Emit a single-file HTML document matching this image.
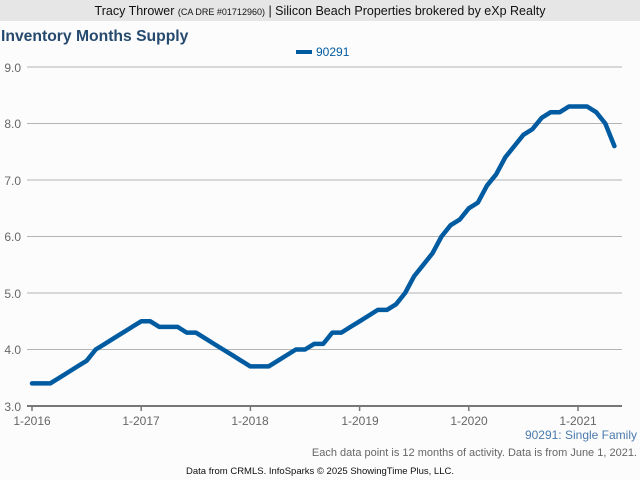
<!DOCTYPE html>
<html><head><meta charset="utf-8"><style>
body{margin:0;width:640px;height:480px;background:#fff;overflow:hidden;font-family:"Liberation Sans",sans-serif}
</style></head><body>
<svg id="s" width="640" height="480" xmlns="http://www.w3.org/2000/svg" font-family="Liberation Sans, sans-serif">
<rect x="0" y="0" width="640" height="480" fill="#fcfcfc"/>
<rect x="0" y="0" width="640" height="21" fill="#e6e6e6"/>
<text x="320" y="15" text-anchor="middle" font-size="12.5" fill="#111">Tracy Thrower <tspan font-size="9">(CA DRE #01712960)</tspan> | Silicon Beach Properties brokered by eXp Realty</text>
<text x="1" y="41" font-size="15.7" font-weight="bold" fill="#264a6e">Inventory Months Supply</text>
<rect x="296" y="50" width="16" height="4" fill="#005ba1"/>
<text x="316" y="56" font-size="12" fill="#005ba1">90291</text>
<g stroke="#b4b4b4" stroke-width="1">
<line x1="27" y1="67" x2="622" y2="67"/><line x1="27" y1="123.5" x2="622" y2="123.5"/>
<line x1="27" y1="180" x2="622" y2="180"/><line x1="27" y1="236.5" x2="622" y2="236.5"/>
<line x1="27" y1="293" x2="622" y2="293"/><line x1="27" y1="349.5" x2="622" y2="349.5"/>
</g>
<line x1="27" y1="406" x2="622" y2="406" stroke="#777" stroke-width="2"/>
<g stroke="#777" stroke-width="1.5">
<line x1="32" y1="406" x2="32" y2="411"/><line x1="141.2" y1="406" x2="141.2" y2="411"/>
<line x1="250.4" y1="406" x2="250.4" y2="411"/><line x1="359.6" y1="406" x2="359.6" y2="411"/>
<line x1="468.8" y1="406" x2="468.8" y2="411"/><line x1="578" y1="406" x2="578" y2="411"/>
</g>
<g font-size="12" fill="#666" text-anchor="end">
<text x="21" y="72">9.0</text><text x="21" y="128">8.0</text><text x="21" y="185">7.0</text>
<text x="21" y="241">6.0</text><text x="21" y="298">5.0</text><text x="21" y="354">4.0</text><text x="21" y="411">3.0</text>
</g>
<g font-size="12" fill="#666" text-anchor="middle">
<text x="32" y="425">1-2016</text><text x="141" y="425">1-2017</text><text x="250" y="425">1-2018</text>
<text x="360" y="425">1-2019</text><text x="469" y="425">1-2020</text><text x="578" y="425">1-2021</text>
</g>
<polyline id="p" fill="none" stroke="#005ba1" stroke-width="4.5" stroke-linejoin="round" stroke-linecap="round" points=""/>
<text x="637" y="439" text-anchor="end" font-size="12" fill="#4a7aad">90291: Single Family</text>
<text x="637" y="456" text-anchor="end" font-size="11" fill="#666">Each data point is 12 months of activity. Data is from June 1, 2021.</text>
<text x="320" y="474" text-anchor="middle" font-size="9.5" fill="#111">Data from CRMLS. InfoSparks © 2025 ShowingTime Plus, LLC.</text>
</svg>
<script>
var v=[3.4,3.4,3.4,3.5,3.6,3.7,3.8,4.0,4.1,4.2,4.3,4.4,
4.5,4.5,4.4,4.4,4.4,4.3,4.3,4.2,4.1,4.0,3.9,3.8,
3.7,3.7,3.7,3.8,3.9,4.0,4.0,4.1,4.1,4.3,4.3,4.4,
4.5,4.6,4.7,4.7,4.8,5.0,5.3,5.5,5.7,6.0,6.2,6.3,
6.5,6.6,6.9,7.1,7.4,7.6,7.8,7.9,8.1,8.2,8.2,8.3,
8.3,8.3,8.2,8.0,7.6];
var p=v.map(function(a,i){return (32+i*9.1).toFixed(1)+","+(406-(a-3)*56.5).toFixed(1)}).join(" ");
document.getElementById("p").setAttribute("points",p);
</script>
</body></html>
